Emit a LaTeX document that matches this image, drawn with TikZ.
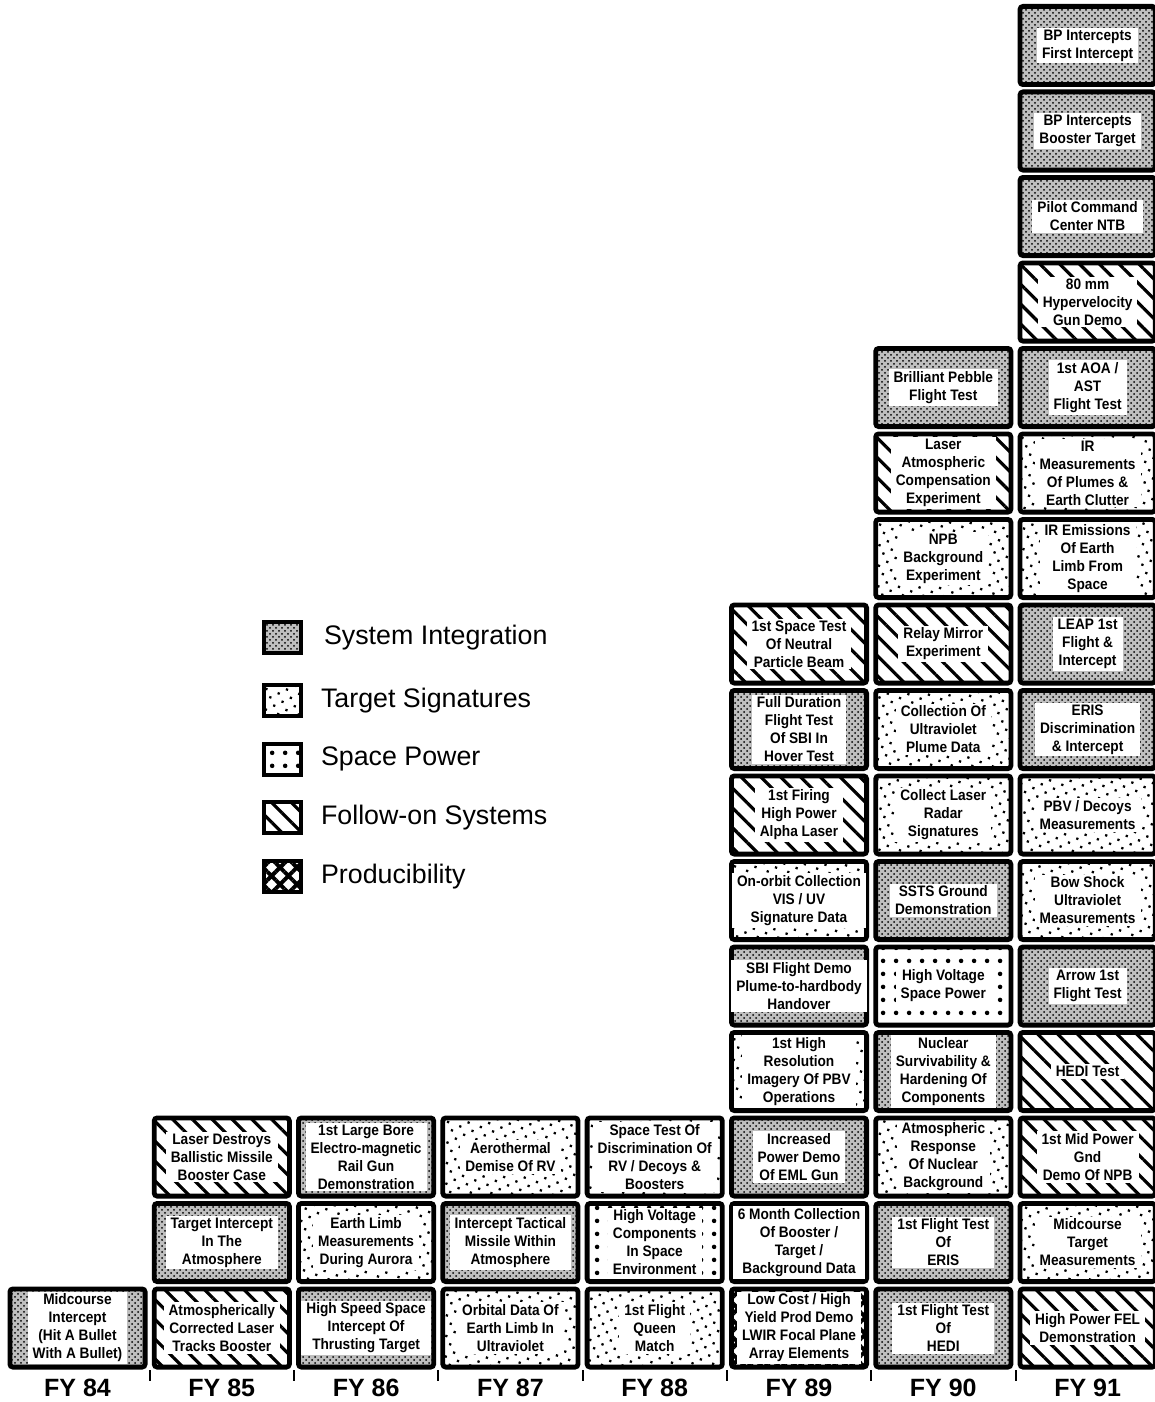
\documentclass[tikz,border=0pt]{standalone}
\usepackage{fontspec}
\setmainfont{Liberation Sans}
\newfontfamily\boxfont{Liberation Sans}[FakeStretch=0.9]
\usetikzlibrary{patterns,patterns.meta,positioning}

\tikzset{
  milebox/.style={draw, line width=2.4pt, rounded corners=1.5pt,
    minimum width=67.6pt, minimum height=39.1pt, inner sep=0pt},
  miletext/.style={fill=white, align=center, inner xsep=2.5pt, inner ysep=1pt,
    font=\boxfont\bfseries\fontsize{7.6}{9.0}\selectfont},
  sysint/.style={preaction={fill=black!25}, pattern=crosshatch dots},
  targetsig/.style={pattern={Dots[distance=4.6pt,radius=0.8pt,angle=25]}},
  spacepower/.style={pattern={Dots[distance=6.5pt,radius=1.2pt]}},
  followon/.style={pattern={Lines[angle=-45,distance=7pt,line width=1.6pt]}},
  produce/.style={pattern={Hatch[angle=45,distance=6pt,line width=2pt]}},
  fylabel/.style={font=\bfseries\fontsize{12.5}{14}\selectfont},
  swatch/.style={draw, line width=2pt, minimum width=18.5pt,
    minimum height=15.5pt, inner sep=0pt},
  legendtext/.style={font=\fontsize{13.4}{16}\selectfont, anchor=west}
}

% one milestone box: name, column, row, kind, text
\newcommand{\milestone}[5]{%
  \node[milebox,#4] (#1) at ({77.5+144.3*#2},{45.5+85.5*(15-#3)}) {};
  \node[miletext] (#1-t) at (#1) {#5};}

\begin{document}
\begin{tikzpicture}[x=0.5pt, y=-0.5pt]
  \useasboundingbox (0,0) rectangle (1155,1402);

  % FY 84 - FY 88
  \milestone{fy84r0}{0}{0}{sysint}{Midcourse\\Intercept\\(Hit A Bullet\\With A Bullet)}
  \milestone{fy85r0}{1}{0}{followon}{Atmospherically\\Corrected Laser\\Tracks Booster}
  \milestone{fy85r1}{1}{1}{sysint}{Target Intercept\\In The\\Atmosphere}
  \milestone{fy85r2}{1}{2}{followon}{Laser Destroys\\Ballistic Missile\\Booster Case}
  \milestone{fy86r0}{2}{0}{sysint}{High Speed Space\\Intercept Of\\Thrusting Target}
  \milestone{fy86r1}{2}{1}{targetsig}{Earth Limb\\Measurements\\During Aurora}
  \milestone{fy86r2}{2}{2}{sysint}{1st Large Bore\\Electro-magnetic\\Rail Gun\\Demonstration}
  \milestone{fy87r0}{3}{0}{targetsig}{Orbital Data Of\\Earth Limb In\\Ultraviolet}
  \milestone{fy87r1}{3}{1}{sysint}{Intercept Tactical\\Missile Within\\Atmosphere}
  \milestone{fy87r2}{3}{2}{targetsig}{Aerothermal\\Demise Of RV}
  \milestone{fy88r0}{4}{0}{targetsig}{1st Flight\\Queen\\Match}
  \milestone{fy88r1}{4}{1}{spacepower}{High Voltage\\Components\\In Space\\Environment}
  \milestone{fy88r2}{4}{2}{targetsig}{Space Test Of\\Discrimination Of\\RV / Decoys \&\\Boosters}

  % FY 89
  \milestone{fy89r0}{5}{0}{produce}{Low Cost / High\\Yield Prod Demo\\LWIR Focal Plane\\Array Elements}
  \milestone{fy89r1}{5}{1}{targetsig}{6 Month Collection\\Of Booster /\\Target /\\Background Data}
  \milestone{fy89r2}{5}{2}{sysint}{Increased\\Power Demo\\Of EML Gun}
  \milestone{fy89r3}{5}{3}{targetsig}{1st High\\Resolution\\Imagery Of PBV\\Operations}
  \milestone{fy89r4}{5}{4}{sysint}{SBI Flight Demo\\Plume-to-hardbody\\Handover}
  \milestone{fy89r5}{5}{5}{targetsig}{On-orbit Collection\\VIS / UV\\Signature Data}
  \milestone{fy89r6}{5}{6}{followon}{1st Firing\\High Power\\Alpha Laser}
  \milestone{fy89r7}{5}{7}{sysint}{Full Duration\\Flight Test\\Of SBI In\\Hover Test}
  \milestone{fy89r8}{5}{8}{followon}{1st Space Test\\Of Neutral\\Particle Beam}

  % FY 90
  \milestone{fy90r0}{6}{0}{sysint}{1st Flight Test\\Of\\HEDI}
  \milestone{fy90r1}{6}{1}{sysint}{1st Flight Test\\Of\\ERIS}
  \milestone{fy90r2}{6}{2}{targetsig}{Atmospheric\\Response\\Of Nuclear\\Background}
  \milestone{fy90r3}{6}{3}{sysint}{Nuclear\\Survivability \&\\Hardening Of\\Components}
  \milestone{fy90r4}{6}{4}{spacepower}{High Voltage\\Space Power}
  \milestone{fy90r5}{6}{5}{sysint}{SSTS Ground\\Demonstration}
  \milestone{fy90r6}{6}{6}{targetsig}{Collect Laser\\Radar\\Signatures}
  \milestone{fy90r7}{6}{7}{targetsig}{Collection Of\\Ultraviolet\\Plume Data}
  \milestone{fy90r8}{6}{8}{followon}{Relay Mirror\\Experiment}
  \milestone{fy90r9}{6}{9}{targetsig}{NPB\\Background\\Experiment}
  \milestone{fy90r10}{6}{10}{followon}{Laser\\Atmospheric\\Compensation\\Experiment}
  \milestone{fy90r11}{6}{11}{sysint}{Brilliant Pebble\\Flight Test}

  % FY 91
  \milestone{fy91r0}{7}{0}{followon}{High Power FEL\\Demonstration}
  \milestone{fy91r1}{7}{1}{targetsig}{Midcourse\\Target\\Measurements}
  \milestone{fy91r2}{7}{2}{followon}{1st Mid Power\\Gnd\\Demo Of NPB}
  \milestone{fy91r3}{7}{3}{followon}{HEDI Test}
  \milestone{fy91r4}{7}{4}{sysint}{Arrow 1st\\Flight Test}
  \milestone{fy91r5}{7}{5}{targetsig}{Bow Shock\\Ultraviolet\\Measurements}
  \milestone{fy91r6}{7}{6}{targetsig}{PBV / Decoys\\Measurements}
  \milestone{fy91r7}{7}{7}{sysint}{ERIS\\Discrimination\\\& Intercept}
  \milestone{fy91r8}{7}{8}{sysint}{LEAP 1st\\Flight \&\\Intercept}
  \milestone{fy91r9}{7}{9}{targetsig}{IR Emissions\\Of Earth\\Limb From\\Space}
  \milestone{fy91r10}{7}{10}{targetsig}{IR\\Measurements\\Of Plumes \&\\Earth Clutter}
  \milestone{fy91r11}{7}{11}{sysint}{1st AOA /\\AST\\Flight Test}
  \milestone{fy91r12}{7}{12}{followon}{80 mm\\Hypervelocity\\Gun Demo}
  \milestone{fy91r13}{7}{13}{sysint}{Pilot Command\\Center NTB}
  \milestone{fy91r14}{7}{14}{sysint}{BP Intercepts\\Booster Target}
  \milestone{fy91r15}{7}{15}{sysint}{BP Intercepts\\First Intercept}

  % year axis
  \foreach \yr [count=\c from 0] in {84,...,91}
    \node[fylabel] (fy\yr) at ({77.5+144.3*\c},1388) {FY \yr};
  \foreach \c in {1,...,7}
    \draw[line width=1pt] ({5.4+144.3*\c},1370) -- ({5.4+144.3*\c},1381);

  % legend
  \node[swatch, sysint] (lgsi) at (282.5,637.5) {};
  \node[swatch, targetsig] (lgts) at (282.5,700.5) {};
  \node[swatch, spacepower] (lgsp) at (282.5,759) {};
  \node[swatch, followon] (lgfo) at (282.5,817.5) {};
  \node[swatch, produce] (lgpr) at (282.5,876.5) {};
  \node[legendtext, right=7pt of lgsi] (lgsi-t) {System Integration};
  \node[legendtext, right=5.5pt of lgts] (lgts-t) {Target Signatures};
  \node[legendtext, right=5.5pt of lgsp] (lgsp-t) {Space Power};
  \node[legendtext, right=5.5pt of lgfo] (lgfo-t) {Follow-on Systems};
  \node[legendtext, right=5.5pt of lgpr] (lgpr-t) {Producibility};
\end{tikzpicture}
\end{document}
